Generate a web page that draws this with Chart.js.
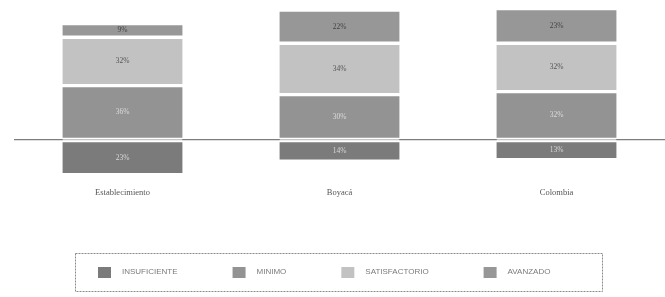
<!DOCTYPE html>
<html>
<head>
<meta charset="utf-8">
<script src="https://cdn.jsdelivr.net/npm/chart.js@4.4.1/dist/chart.umd.min.js"></script>
<style>
  html, body { margin: 0; padding: 0; background: #fff; }
  #wrap { width: 665px; height: 297px; }
</style>
</head>
<body>
<div id="wrap"><canvas id="c1"></canvas></div>
<script>
var categories = ["Establecimiento", "Boyacá", "Colombia"];
var insuficiente = [23, 14, 13];
var minimo = [36, 30, 32];
var satisfactorio = [32, 34, 32];
var avanzado = [9, 22, 23];
var legendNames = ["INSUFICIENTE", "MINIMO", "SATISFACTORIO", "AVANZADO"];

// percentages printed in the middle of every segment
var segmentLabels = {
  id: "segmentLabels",
  afterDatasetsDraw: function(chart) {
    var ctx = chart.ctx;
    ctx.save();
    ctx.font = "7.5px 'Liberation Serif'";
    ctx.textAlign = "center";
    ctx.textBaseline = "middle";
    chart.data.datasets.forEach(function(ds, i) {
      var meta = chart.getDatasetMeta(i);
      ctx.fillStyle = ds.labelColor;
      meta.data.forEach(function(bar, j) {
        var v = Math.abs(ds.data[j]);
        ctx.fillText(v + "%", bar.x, (bar.y + bar.base) / 2);
      });
    });
    ctx.restore();
  }
};

// legend inside a dashed frame under the chart
var boxLegend = {
  id: "boxLegend",
  afterDraw: function(chart, args, opts) {
    var ctx = chart.ctx;
    ctx.save();
    ctx.strokeStyle = "#8a8a8a";
    ctx.lineWidth = 1;
    ctx.setLineDash([2, 1]);
    ctx.strokeRect(opts.left + 0.5, opts.top + 0.5, opts.width, opts.height);
    ctx.setLineDash([]);
    ctx.font = "8px 'Liberation Sans'";
    ctx.textBaseline = "middle";
    var x = opts.startX;
    var yMid = opts.top + opts.height / 2;
    opts.order.forEach(function(idx, k) {
      var ds = chart.data.datasets[idx];
      ctx.fillStyle = ds.backgroundColor;
      ctx.fillRect(x, yMid - 5, 13, 11);
      ctx.fillStyle = "#7a7a7a";
      var txt = legendNames[k];
      ctx.fillText(txt, x + 24, yMid);
      x += 24 + ctx.measureText(txt).width + 55;
    });
    ctx.restore();
  }
};

var ctx = document.getElementById("c1");
var myChart = new Chart(ctx, {
  type: "bar",
  data: {
    labels: categories,
    datasets: [
      {
        label: "Insuficiente",
        data: insuficiente.map(function(v) { return -v; }),
        backgroundColor: "#7b7b7b",
        labelColor: "#d8d8d8"
      },
      {
        label: "Mínimo",
        data: minimo,
        backgroundColor: "#939393",
        labelColor: "#dcdcdc"
      },
      {
        label: "Satisfactorio",
        data: satisfactorio,
        backgroundColor: "#c2c2c2",
        labelColor: "#555555"
      },
      {
        label: "Avanzado",
        data: avanzado,
        backgroundColor: "#979797",
        labelColor: "#444444"
      }
    ]
  },
  options: {
    responsive: true,
    maintainAspectRatio: false,
    animation: false,
    datasets: {
      bar: {
        categoryPercentage: 1,
        barThickness: 120,
        borderColor: "#ffffff",
        borderWidth: {top: 2, bottom: 2, left: 0, right: 0},
        borderSkipped: false
      }
    },
    layout: {
      padding: {top: 4, left: 14, right: 0, bottom: 100}
    },
    plugins: {
      legend: {display: false},
      tooltip: {enabled: false},
      boxLegend: {
        left: 75, top: 253, width: 527, height: 38,
        startX: 98,
        order: [0, 1, 2, 3]
      }
    },
    scales: {
      x: {
        stacked: true,
        grid: {display: false},
        border: {display: false},
        ticks: {
          padding: -1,
          color: "#555555",
          font: {family: "'Liberation Serif'", size: 8.5}
        }
      },
      y: {
        stacked: true,
        min: -27,
        max: 90,
        ticks: {display: false, stepSize: 10},
        border: {display: false},
        grid: {
          drawTicks: false,
          lineWidth: 1.2,
          color: function(c) {
            return c.tick && c.tick.value === 0 ? "#7d7d7d" : "rgba(0,0,0,0)";
          }
        }
      }
    }
  },
  plugins: [segmentLabels, boxLegend]
});
</script>
</body>
</html>
